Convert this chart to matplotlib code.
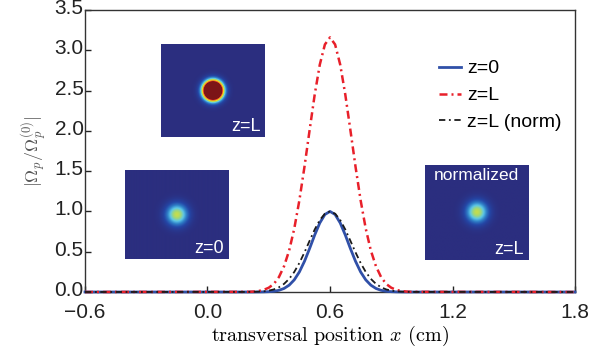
import numpy as np
import matplotlib

matplotlib.use("Agg")

import matplotlib.pyplot as plt
from matplotlib.colors import LinearSegmentedColormap
from matplotlib.transforms import ScaledTranslation

plt.rcParams["mathtext.fontset"] = "cm"
plt.rcParams["font.family"] = ["Liberation Sans", "DejaVu Sans"]

# transversal position samples (cm)
x_cm = [-0.6, 0.2, 0.225, 0.25, 0.275, 0.3, 0.325, 0.35, 0.375, 0.4, 0.425, 0.45, 0.475,
        0.5, 0.525, 0.55, 0.575, 0.6, 0.625, 0.65, 0.675, 0.7, 0.725, 0.75, 0.775,
        0.8, 0.825, 0.85, 0.875, 0.9, 0.925, 0.95, 0.975, 1.0, 1.8]

z0 = [0.0, 0.0, 0.0, 0.0005, 0.0015, 0.004, 0.009, 0.021, 0.044, 0.085, 0.151, 0.249, 0.381,
      0.539, 0.707, 0.857, 0.962, 1.0, 0.962, 0.857, 0.707, 0.539, 0.381, 0.249, 0.151,
      0.085, 0.044, 0.021, 0.009, 0.004, 0.0015, 0.0005, 0.0, 0.0, 0.0]

zL = [0.0, 0.002, 0.005, 0.012, 0.026, 0.053, 0.10, 0.186, 0.32, 0.515, 0.787, 1.138, 1.555,
      2.007, 2.449, 2.822, 3.072, 3.16, 3.072, 2.822, 2.449, 2.007, 1.555, 1.138, 0.787,
      0.515, 0.32, 0.186, 0.10, 0.053, 0.026, 0.012, 0.005, 0.002, 0.0]

zL_norm = [0.0, 0.001, 0.002, 0.004, 0.008, 0.017, 0.032, 0.059, 0.101, 0.163, 0.249, 0.36, 0.492,
           0.635, 0.775, 0.893, 0.972, 1.0, 0.972, 0.893, 0.775, 0.635, 0.492, 0.36, 0.249,
           0.163, 0.101, 0.059, 0.032, 0.017, 0.008, 0.004, 0.002, 0.001, 0.0]

x_ticks = [-0.6, 0.0, 0.6, 1.2, 1.8]
y_ticks = [0.0, 0.5, 1.0, 1.5, 2.0, 2.5, 3.0, 3.5]

spot_cmap = LinearSegmentedColormap.from_list(
    "spot",
    [(0.0, "#2b2e7f"), (0.125, "#2446a6"), (0.25, "#2f80c8"), (0.375, "#5ec8e8"),
     (0.5, "#a6d870"), (0.625, "#f0e41e"), (0.875, "#e23426"), (1.0, "#7d1517")],
)

fig = plt.figure(figsize=(6.11, 3.6), dpi=100)
ax = fig.add_axes([0.1391, 0.1889, 0.802, 0.7833])

ax.plot(x_cm, z0, color="#3050a8", linewidth=2.0, label="z=0", clip_on=False, zorder=3)
ax.plot(x_cm, zL, color="#e8202a", linewidth=1.8, linestyle=(0, (3.2, 1.6, 0.8, 1.6)),
        label="z=L", clip_on=False, zorder=4)
ax.plot(x_cm, zL_norm, color="#1a1a1a", linewidth=1.3, linestyle=(0, (3.5, 2.0, 1.0, 2.0)),
        label="z=L (norm)", clip_on=False, zorder=4)

ax.set_xlim(-0.6, 1.8)
ax.set_ylim(0.0, 3.5)
ax.set_xticks(x_ticks)
ax.set_yticks(y_ticks)
ax.set_xticklabels([f"{t:.1f}".replace("-", "\u2212") for t in x_ticks])
ax.set_yticklabels([f"{t:.1f}" for t in y_ticks])
ax.tick_params(direction="in", length=4, width=1, labelsize=15, colors="#222222")
ax.tick_params(axis="y", pad=1)
ax.tick_params(axis="x", pad=8)
lift = ScaledTranslation(0, 2.5 / 72, fig.dpi_scale_trans)
for label in ax.get_yticklabels():
    label.set_transform(label.get_transform() + lift)
for side in ["left", "bottom", "top", "right"]:
    ax.spines[side].set_color("#333333")
    ax.spines[side].set_linewidth(1.0)

ax.set_xlabel("transversal position $x$ (cm)", fontname="cmr10", fontsize=14.5, labelpad=1)
ax.set_ylabel(r"$|\Omega_p/\Omega_p^{(0)}|$", fontsize=13, color="#555555", labelpad=4)

fig.legend(loc="upper left", bbox_to_anchor=(0.718, 0.834), frameon=False, fontsize=14,
           handlelength=1.15, handletextpad=0.3, labelspacing=0.48, borderpad=0, borderaxespad=0)

# inset beam images: (axes rect, curve, colour max, image half width in cm, labels)
insets = [
    ([0.2635, 0.6194, 0.170, 0.258], zL, 1.0, 0.92, "z=L", None),
    ([0.2046, 0.2806, 0.1686, 0.247], z0, 1.8, 0.62, "z=0", None),
    ([0.6956, 0.2778, 0.1686, 0.264], zL_norm, 1.8, 0.72, "z=L", "normalized"),
]
for rect, curve, vmax, half_w, corner, top in insets:
    iax = fig.add_axes(rect)
    w_px = int(round(rect[2] * 611))
    h_px = int(round(rect[3] * 360))
    gx = np.linspace(-half_w, half_w, w_px)
    gy = np.linspace(-half_w * h_px / w_px, half_w * h_px / w_px, h_px)
    xx, yy = np.meshgrid(gx, gy)
    rr = np.hypot(xx, yy)
    img = np.interp(0.6 + rr, x_cm, curve)
    iax.imshow(img, cmap=spot_cmap, vmin=0, vmax=vmax, aspect="auto", interpolation="bilinear")
    iax.set_axis_off()
    iax.text(0.96, 0.02, corner, transform=iax.transAxes, ha="right", va="bottom",
             color="white", fontsize=13)
    if top:
        iax.text(0.5, 0.97, top, transform=iax.transAxes, ha="center", va="top",
                 color="white", fontsize=12.5)

fig.savefig("out.png", dpi=100)
